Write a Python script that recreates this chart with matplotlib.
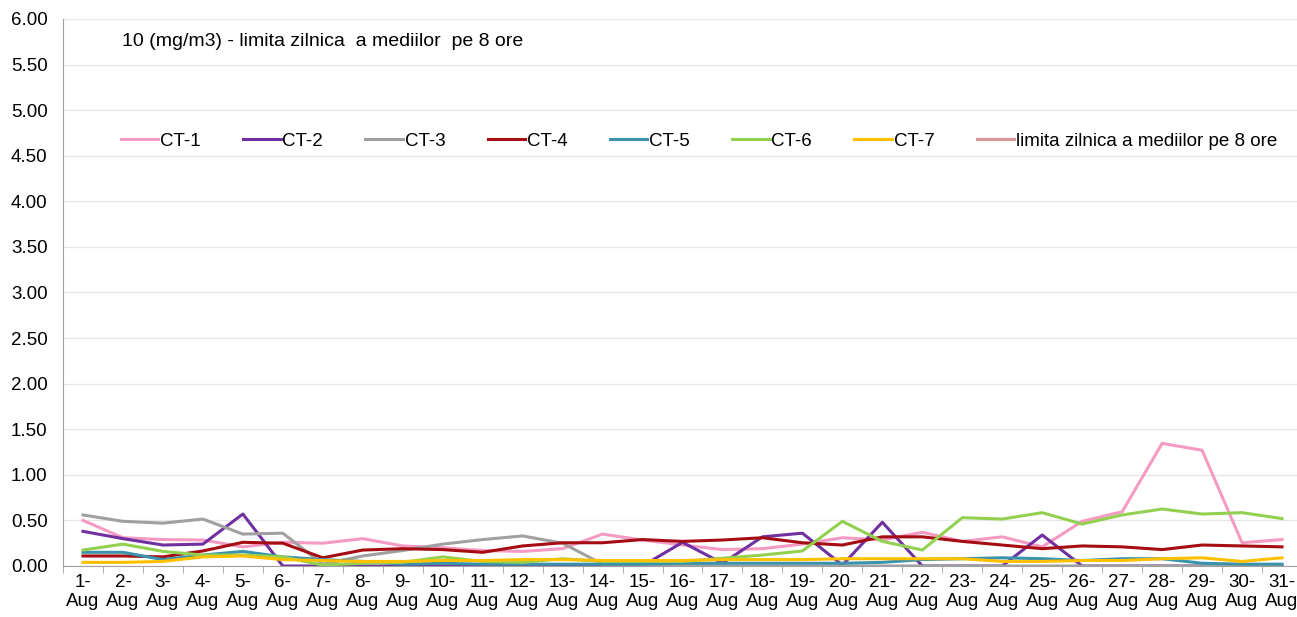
import numpy as np
import matplotlib.pyplot as plt

plt.rcParams['font.family'] = ['Liberation Sans', 'DejaVu Sans']

days = [str(d) + '-\nAug' for d in range(1, 32)]

ct1 = [0.50, 0.31, 0.29, 0.285, 0.21, 0.26, 0.25, 0.30, 0.22, 0.20,
       0.17, 0.16, 0.19, 0.35, 0.285, 0.23, 0.18, 0.19, 0.24, 0.31,
       0.285, 0.37, 0.27, 0.32, 0.21, 0.49, 0.595, 1.345, 1.27, 0.255, 0.29]
ct2 = [0.38, 0.30, 0.23, 0.24, 0.57, 0.0, 0.0, 0.0, 0.0, 0.0,
       0.0, 0.0, 0.0, 0.0, 0.0, 0.26, 0.03, 0.32, 0.36, 0.01,
       0.48, 0.0, 0.0, 0.0, 0.34, 0.0, 0.0, 0.0, 0.0, 0.0, 0.0]
ct3 = [0.56, 0.49, 0.47, 0.515, 0.35, 0.36, 0.02, 0.11, 0.17, 0.24,
       0.29, 0.33, 0.25, 0.02, 0.02, 0.01, 0.0, 0.0, 0.0, 0.0,
       0.0, 0.0, 0.0, 0.0, 0.0, 0.0, 0.0, 0.0, 0.0, 0.0, 0.0]
ct4 = [0.11, 0.11, 0.10, 0.165, 0.26, 0.25, 0.09, 0.175, 0.19, 0.18,
       0.15, 0.22, 0.255, 0.255, 0.29, 0.27, 0.285, 0.31, 0.255, 0.23,
       0.32, 0.32, 0.27, 0.23, 0.19, 0.22, 0.21, 0.18, 0.23, 0.22, 0.21]
ct5 = [0.15, 0.15, 0.07, 0.12, 0.16, 0.10, 0.07, 0.05, 0.02, 0.03,
       0.02, 0.02, 0.02, 0.02, 0.02, 0.03, 0.03, 0.03, 0.03, 0.03,
       0.04, 0.07, 0.08, 0.09, 0.08, 0.06, 0.08, 0.08, 0.03, 0.02, 0.02]
ct6 = [0.175, 0.24, 0.16, 0.12, 0.12, 0.10, 0.01, 0.03, 0.04, 0.10,
       0.05, 0.04, 0.08, 0.05, 0.05, 0.05, 0.085, 0.12, 0.165, 0.49,
       0.27, 0.175, 0.53, 0.515, 0.585, 0.46, 0.56, 0.625, 0.57, 0.585, 0.52]
ct7 = [0.04, 0.04, 0.05, 0.10, 0.11, 0.07, 0.06, 0.05, 0.05, 0.06,
       0.06, 0.07, 0.07, 0.06, 0.06, 0.06, 0.07, 0.07, 0.07, 0.08,
       0.08, 0.08, 0.08, 0.05, 0.05, 0.06, 0.06, 0.08, 0.09, 0.05, 0.09]
limita = [10] * 31

series = [('CT-1', ct1, '#f59ac3'), ('CT-2', ct2, '#7030a0'),
          ('CT-3', ct3, '#a0a0a0'), ('CT-4', ct4, '#a50d12'),
          ('CT-5', ct5, '#3a92ab'), ('CT-6', ct6, '#92d050'),
          ('CT-7', ct7, '#ffc000'),
          ('limita zilnica a mediilor pe 8 ore', limita, '#d99694')]

fig = plt.figure(figsize=(12.97, 6.17), dpi=100)
ax = fig.add_axes([63 / 1297, 51 / 617, 1239 / 1297, 547 / 617])

x = np.arange(len(days))
for name, vals, col in series:
    ax.plot(x, vals, color=col, lw=2.2, label=name)

ax.set_xlim(-0.5, 30.5)
ax.set_ylim(0, 6)
ax.set_yticks(np.arange(0, 6.01, 0.5))
ax.set_yticklabels(['%.2f' % v for v in np.arange(0, 6.01, 0.5)], fontsize=13.5)
ax.set_xticks(x)
ax.set_xticklabels(days, fontsize=13.5, linespacing=1.1)
ax.set_xticks(np.arange(-0.5, 31, 1), minor=True)
ax.tick_params(axis='x', which='major', length=0, pad=6)
ax.tick_params(axis='x', which='minor', length=5, color='#a0a0a0')
ax.tick_params(axis='y', length=0, pad=11)
ax.grid(axis='y', color='#e6e6e6', lw=0.9)
ax.set_axisbelow(True)
for s in ['top', 'right']:
    ax.spines[s].set_visible(False)
ax.spines['left'].set_color('#a0a0a0')
ax.spines['bottom'].set_color('#a0a0a0')

ax.text(122 / 1297, 1 - 41 / 617, '10 (mg/m3) - limita zilnica  a mediilor  pe 8 ore',
        transform=fig.transFigure, fontsize=14, va='center', ha='left')

ax.legend(loc='center left', bbox_to_anchor=(104 / 1297, 1 - 141 / 617),
          bbox_transform=fig.transFigure, ncol=8, frameon=False,
          fontsize=13.5, handlelength=2.0, handletextpad=0.1,
          columnspacing=2.25)

fig.savefig('out.png', dpi=100)
